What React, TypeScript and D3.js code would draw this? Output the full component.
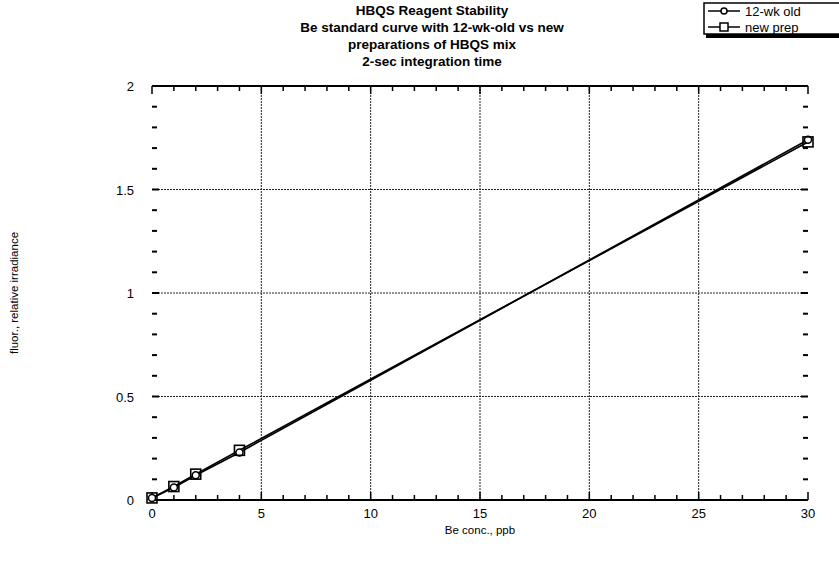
import * as d3 from "d3";

const xs = [0, 1, 2, 4, 30];
const oldPrep = [0.01, 0.06, 0.12, 0.23, 1.74];
const newPrep = [0.01, 0.065, 0.125, 0.24, 1.73];
const xTicks = [0, 5, 10, 15, 20, 25, 30];
const yTicks = [0, 0.5, 1, 1.5, 2];
const titleLines = [
  "HBQS Reagent Stability",
  "Be standard curve with 12-wk-old vs new",
  "preparations of HBQS mix",
  "2-sec integration time",
];

const W = 839;
const H = 570;
const m = { left: 152, right: 808, top: 86, bottom: 500 };

export default function App() {
  const x = d3.scaleLinear().domain([0, 30]).range([m.left, m.right]);
  const y = d3.scaleLinear().domain([0, 2]).range([m.bottom, m.top]);
  const line = d3
    .line<number>()
    .x((_, i) => x(xs[i]))
    .y((d) => y(d));

  const xMinor = d3.range(0, 31, 1);
  const yMinor = d3.range(0, 2.001, 0.1);
  const font = "'Liberation Sans', Arial, sans-serif";

  return (
    <svg
      width={W}
      height={H}
      style={{ position: "absolute", left: 0, top: 0, background: "#fff" }}
      fontFamily={font}
    >
      {/* title */}
      {titleLines.map((t, i) => (
        <text
          key={t}
          x={432}
          y={15 + i * 17}
          textAnchor="middle"
          fontSize={13.5}
          fontWeight="bold"
        >
          {t}
        </text>
      ))}

      {/* grid */}
      {xTicks.slice(1, -1).map((v) => (
        <line
          key={"gx" + v}
          x1={x(v)}
          x2={x(v)}
          y1={m.top}
          y2={m.bottom}
          stroke="#222"
          strokeWidth={1}
          strokeDasharray="2,1"
        />
      ))}
      {yTicks.slice(1, -1).map((v) => (
        <line
          key={"gy" + v}
          x1={m.left}
          x2={m.right}
          y1={y(v)}
          y2={y(v)}
          stroke="#222"
          strokeWidth={1}
          strokeDasharray="2,1"
        />
      ))}

      {/* frame: top and bottom */}
      <line x1={m.left} x2={m.right} y1={m.top} y2={m.top} stroke="#000" strokeWidth={2} />
      <line x1={m.left} x2={m.right} y1={m.bottom} y2={m.bottom} stroke="#000" strokeWidth={2} />

      {/* x ticks */}
      {xMinor.map((v) => {
        const major = v % 5 === 0;
        const len = major ? 8 : 5;
        return (
          <g key={"xt" + v}>
            <line x1={x(v)} x2={x(v)} y1={m.bottom} y2={m.bottom - len} stroke="#000" strokeWidth={1.5} />
            <line x1={x(v)} x2={x(v)} y1={m.top} y2={m.top + len} stroke="#000" strokeWidth={1.5} />
          </g>
        );
      })}
      {/* y ticks */}
      {yMinor.map((v, i) => {
        const major = i % 5 === 0;
        const len = major ? 7 : 5;
        return (
          <g key={"yt" + i}>
            <line x1={m.left} x2={m.left + len} y1={y(v)} y2={y(v)} stroke="#000" strokeWidth={2} />
            <line x1={m.right} x2={m.right - len} y1={y(v)} y2={y(v)} stroke="#000" strokeWidth={2} />
          </g>
        );
      })}

      {/* tick labels */}
      {xTicks.map((v) => (
        <text key={"xl" + v} x={x(v)} y={518} textAnchor="middle" fontSize={13}>
          {v}
        </text>
      ))}
      {yTicks.map((v) => (
        <text key={"yl" + v} x={134} y={y(v) + 5} textAnchor="end" fontSize={13}>
          {v}
        </text>
      ))}

      {/* axis titles */}
      <text x={480} y={534} textAnchor="middle" fontSize={11.5}>
        Be conc., ppb
      </text>
      <text
        transform={`translate(18,${(m.top + m.bottom) / 2}) rotate(-90)`}
        textAnchor="middle"
        fontSize={11.5}
      >
        fluor., relative irradiance
      </text>

      {/* series */}
      <path d={line(oldPrep) || ""} fill="none" stroke="#000" strokeWidth={1.7} />
      <path d={line(newPrep) || ""} fill="none" stroke="#000" strokeWidth={1.7} />
      {oldPrep.map((v, i) => (
        <circle key={"c" + i} cx={x(xs[i])} cy={y(v)} r={3.5} fill="#fff" stroke="#000" strokeWidth={1.5} />
      ))}
      {newPrep.map((v, i) => (
        <rect
          key={"s" + i}
          x={x(xs[i]) - 5}
          y={y(v) - 5}
          width={10}
          height={10}
          fill="none"
          stroke="#000"
          strokeWidth={1.6}
        />
      ))}

      {/* legend */}
      <g>
        <rect x={706} y={5} width={140} height={33} fill="#000" />
        <rect x={704} y={3} width={140} height={31} fill="#fff" stroke="#000" strokeWidth={1.5} />
        <line x1={708} x2={740} y1={11} y2={11} stroke="#000" strokeWidth={1.5} />
        <circle cx={724} cy={11} r={3} fill="#fff" stroke="#000" strokeWidth={1.5} />
        <text x={745} y={15.5} fontSize={13}>
          12-wk old
        </text>
        <line x1={708} x2={740} y1={27} y2={27} stroke="#000" strokeWidth={1.5} />
        <rect x={720} y={23} width={8} height={8} fill="#fff" stroke="#000" strokeWidth={1.5} />
        <text x={745} y={31.5} fontSize={13}>
          new prep
        </text>
      </g>
    </svg>
  );
}
